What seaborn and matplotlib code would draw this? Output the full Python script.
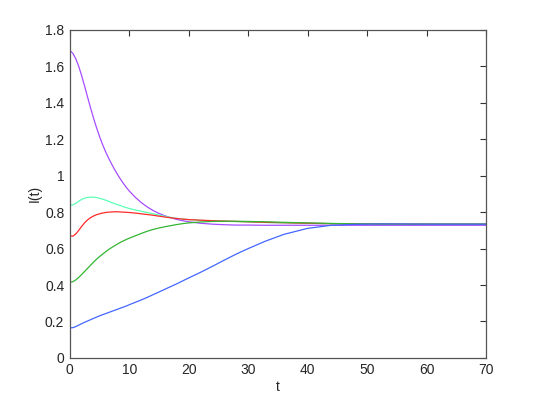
import numpy as np
import pandas as pd
import matplotlib
matplotlib.use("Agg")
import matplotlib.pyplot as plt
import seaborn as sns

sns.set_style("white")
plt.rcParams['font.family'] = ['Liberation Sans', 'DejaVu Sans']

# time samples shared by all curves
t = [0, 0.5, 1, 1.5, 2, 2.5, 3, 3.5, 4, 4.5, 5, 5.5, 6, 6.5, 7, 7.5, 8, 8.5,
     9, 9.5, 10, 11, 12, 13, 14, 15, 16, 17, 18, 19, 20, 22, 24, 26, 28, 30,
     33, 36, 40, 44, 48, 52, 56, 60, 65, 70]

i_purple = [1.687, 1.672, 1.642, 1.600, 1.548, 1.490, 1.430, 1.371, 1.315, 1.263,
            1.215, 1.172, 1.133, 1.098, 1.066, 1.036, 1.008, 0.982, 0.958, 0.936,
            0.916, 0.882, 0.853, 0.829, 0.809, 0.793, 0.780, 0.769, 0.760, 0.753,
            0.747, 0.739, 0.734, 0.731, 0.729, 0.729, 0.728, 0.728, 0.728, 0.728,
            0.728, 0.728, 0.728, 0.728, 0.728, 0.728]
i_cyan = [0.840, 0.840, 0.848, 0.860, 0.870, 0.877, 0.881, 0.882, 0.882, 0.880,
          0.876, 0.871, 0.866, 0.860, 0.853, 0.847, 0.841, 0.836, 0.830, 0.825,
          0.820, 0.812, 0.805, 0.798, 0.791, 0.784, 0.777, 0.771, 0.766, 0.762,
          0.759, 0.755, 0.752, 0.750, 0.748, 0.746, 0.743, 0.741, 0.739, 0.737,
          0.736, 0.735, 0.734, 0.734, 0.734, 0.734]
i_red = [0.670, 0.668, 0.680, 0.700, 0.722, 0.742, 0.758, 0.770, 0.779, 0.786,
         0.791, 0.795, 0.798, 0.800, 0.801, 0.802, 0.802, 0.801, 0.800, 0.799,
         0.798, 0.795, 0.791, 0.787, 0.783, 0.778, 0.773, 0.769, 0.765, 0.762,
         0.759, 0.756, 0.753, 0.751, 0.749, 0.747, 0.744, 0.742, 0.739, 0.737,
         0.736, 0.735, 0.734, 0.734, 0.734, 0.734]
i_green = [0.415, 0.418, 0.428, 0.442, 0.458, 0.475, 0.492, 0.509, 0.526, 0.542,
           0.556, 0.569, 0.582, 0.594, 0.605, 0.615, 0.625, 0.634, 0.642, 0.650,
           0.657, 0.670, 0.683, 0.695, 0.705, 0.713, 0.720, 0.726, 0.732, 0.737,
           0.741, 0.746, 0.749, 0.750, 0.750, 0.749, 0.747, 0.744, 0.741, 0.738,
           0.736, 0.735, 0.734, 0.734, 0.734, 0.734]
i_blue = [0.165, 0.166, 0.172, 0.180, 0.188, 0.196, 0.203, 0.210, 0.217, 0.224,
          0.231, 0.237, 0.243, 0.249, 0.255, 0.261, 0.267, 0.273, 0.279, 0.285,
          0.292, 0.305, 0.318, 0.332, 0.347, 0.362, 0.377, 0.392, 0.407, 0.423,
          0.439, 0.470, 0.503, 0.537, 0.570, 0.600, 0.642, 0.678, 0.711, 0.728,
          0.733, 0.735, 0.735, 0.734, 0.734, 0.734]

series = {"purple": i_purple, "cyan": i_cyan, "red": i_red,
          "green": i_green, "blue": i_blue}
colors = {"purple": "#a64dff", "cyan": "#5cffb5", "red": "#ff2a2a",
          "green": "#33b533", "blue": "#4466ff"}

df = pd.concat([pd.DataFrame({"t": t, "I": v, "curve": k}) for k, v in series.items()])

fig = plt.figure(figsize=(5.37, 4.04), dpi=100)
ax = fig.add_axes([0.13, 0.114, 0.775, 0.812])
sns.lineplot(data=df, x="t", y="I", hue="curve", palette=colors,
             linewidth=0.9, legend=False, ax=ax)

ax.set_xlim(0, 70)
ax.set_ylim(0, 1.8)
ax.set_xticks(np.arange(0, 71, 10))
yt = np.round(np.arange(0, 1.81, 0.2), 1)
ax.set_yticks(yt)
ax.set_yticklabels([("%g" % v) for v in yt])
ax.set_xlabel("t", fontsize=10, labelpad=2)
ax.set_ylabel("I(t)", fontsize=10, labelpad=2)
ax.tick_params(direction="in", length=4.5, width=0.8, top=True, right=True,
               labelsize=10, color="#333333", pad=4)
for s in ax.spines.values():
    s.set_color("#555555")
    s.set_linewidth(0.9)

fig.savefig("out.png", dpi=100)
